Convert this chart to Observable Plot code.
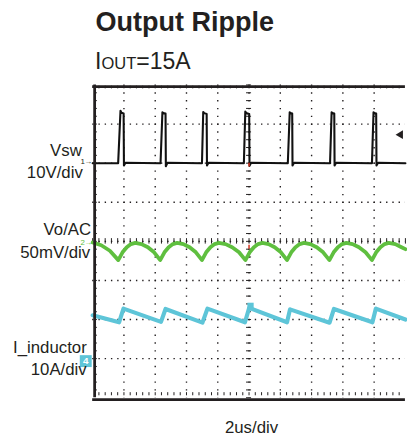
<!DOCTYPE html>
<html><head><meta charset="utf-8">
<script src="https://cdn.jsdelivr.net/npm/d3@7"></script>
<script src="https://cdn.jsdelivr.net/npm/@observablehq/plot@0.6"></script>
<style>
html,body{margin:0;padding:0;background:#fff;overflow:hidden;width:407px;height:447px}
body{font-family:"Liberation Sans",Arial,sans-serif;color:#231f20;position:relative}
#head{position:relative;height:75px;width:407px}
#title{position:absolute;left:95.5px;top:9px;font-size:27px;line-height:1;font-weight:bold;white-space:nowrap}
#sub{position:absolute;left:95px;top:49.5px;font-size:23px;line-height:1;white-space:nowrap}
#sub .s{font-size:16.5px}
#chart{position:relative;height:372px}
</style></head>
<body>
<div id="head"><div id="title">Output Ripple</div><div id="sub">I<span class="s">OUT</span>=15A</div></div>
<div id="chart"></div>
<script>
// Channel labels and settings
const chanNames = ["Vsw", "Vo/AC", "I_inductor"];
const chanScales = ["10V/div", "50mV/div", "10A/div"];
const timeLabel = "2us/div";

// Vsw trace: [time us, volts]
const vswTrace = [
  [0,0],
  [1.63,0],[1.78,13.4],[1.84,12.9],[1.98,12.7],[2.0,-0.6],[2.1,0.1],
  [4.34,0],[4.46,13.0],[4.52,12.8],[4.66,12.7],[4.68,-0.8],[4.78,0.1],
  [6.99,0],[7.07,13.1],[7.13,12.8],[7.29,12.6],[7.31,-0.6],[7.41,0.1],
  [9.67,0],[9.76,13.2],[9.82,12.8],[10.01,12.6],[10.03,-0.7],[10.13,0.1],
  [12.48,0],[12.60,13.0],[12.66,12.8],[12.76,12.7],[12.78,-0.6],[12.88,0.1],
  [15.18,0],[15.28,13.0],[15.34,12.8],[15.45,12.7],[15.47,-0.6],[15.57,0.1],
  [17.86,0],[17.96,13.0],[18.02,12.8],[18.13,12.7],[18.15,-0.6],[18.25,0.1],
  [20,0]
];
// Vo AC ripple: [time us, mV]
const voTrace = [
  [0,-1.5],[0.55,-5],[1.1,-12],
  [1.64,-24],[1.91,-14],[2.18,-7.5],[2.45,-3.5],[2.72,-2],[3.12,-3.5],[3.53,-7.5],[3.93,-14],
  [4.32,-24],[4.59,-14],[4.86,-7.5],[5.13,-3.5],[5.40,-2],[5.80,-3.5],[6.20,-7.5],[6.60,-14],
  [6.99,-24],[7.26,-14],[7.53,-7.5],[7.80,-3.5],[8.07,-2],[8.50,-3.5],[8.92,-7.5],[9.36,-14],
  [9.77,-24],[10.04,-14],[10.31,-7.5],[10.58,-3.5],[10.85,-2],[11.25,-3.5],[11.64,-7.5],[12.04,-14],
  [12.43,-24],[12.70,-14],[12.97,-7.5],[13.24,-3.5],[13.51,-2],[13.92,-3.5],[14.33,-7.5],[14.74,-14],
  [15.14,-24],[15.41,-14],[15.68,-7.5],[15.95,-3.5],[16.22,-2],[16.62,-3.5],[17.03,-7.5],[17.45,-14],
  [17.86,-24],[18.13,-14],[18.40,-7.5],[18.67,-3.5],[18.94,-2],[19.35,-3.5],[19.75,-7.5],[20.0,-10]
];
// Inductor current: [time us, A]
const ilTrace = [
  [0,11.1],
  [1.69,9.3],[1.97,12.8],
  [4.37,9.4],[4.66,12.7],
  [7.02,9.2],[7.34,12.8],
  [9.74,9.3],[10.01,13.0],
  [12.43,9.3],[12.62,12.6],
  [15.15,9.2],[15.43,12.7],
  [17.89,9.3],[18.11,12.8],
  [20,10.0]
];
// scope settings: reference level (div) and units per div
const ch1 = {ref: 6, per: 10};
const ch2 = {ref: 4, per: 50};
const ch4 = {ref: 1, per: 10};
const trigTime = [10];
const trigLevelV = [7.3];

const ink = "#231f20";
const green = "#5fbf3f";
const blue = "#5ec5d8";
const H = 372, W = 412;
const top0 = 9.6, bot0 = 401.2 - 75;

const dv = (c) => (d) => c.ref + d[1] / c.per;

const plot = Plot.plot({
  width: W, height: H,
  marginLeft: 93.3, marginRight: W - 93.3 - 316.6,
  marginTop: top0, marginBottom: H - bot0,
  x: {domain: [0, 20], axis: null},
  y: {domain: [0, 8], axis: null},
  style: {fontFamily: "Liberation Sans, Arial, sans-serif", background: "transparent", color: ink, overflow: "visible"},
  marks: [
    Plot.frame({fill: "white", stroke: null}),
    // dotted graticule
    Plot.ruleX(d3.range(2, 20, 2), {stroke: ink, strokeWidth: 1.4, strokeDasharray: "1.4,6.51"}),
    Plot.ruleY(d3.range(1, 8), {stroke: ink, strokeWidth: 1.4, strokeDasharray: "1.4,4.93"}),
    // center cross ticks
    Plot.ruleY(d3.range(0, 8.01, 0.2), {y: d => d, x1: () => 9.84, x2: () => 10.16, stroke: ink, strokeWidth: 1}),
    Plot.ruleX(d3.range(0, 20.01, 0.4), {x: d => d, y1: () => 3.93, y2: () => 4.07, stroke: ink, strokeWidth: 1}),
    // edge ticks
    Plot.ruleX(d3.range(0.4, 20, 0.4), {x: d => d, y1: () => 0.05, y2: () => 0.13, stroke: ink, strokeWidth: 1}),
    Plot.ruleX(d3.range(0.4, 20, 0.4), {x: d => d, y1: () => 7.9, y2: () => 7.97, stroke: ink, strokeWidth: 1}),
    Plot.ruleY(d3.range(0.2, 8, 0.2), {y: d => d, x1: () => 0.12, x2: () => 0.3, stroke: ink, strokeWidth: 1}),
    // traces
    Plot.line(ilTrace, {x: d => d[0], y: dv(ch4), stroke: blue, strokeWidth: 4.2}),
    Plot.line(voTrace, {x: d => d[0], y: dv(ch2), stroke: green, strokeWidth: 3.8}),
    Plot.line(vswTrace, {x: d => d[0], y: dv(ch1), stroke: "#111", strokeWidth: 2.1}),
    // trigger markers
    Plot.ruleX(trigTime, {y1: () => ch1.ref - 0.1, y2: () => ch1.ref, stroke: "#d8321e", strokeWidth: 1.5}),
    Plot.ruleX(trigTime, {y1: () => ch2.ref - 0.2, y2: () => ch2.ref - 0.1, stroke: "#d8321e", strokeWidth: 1.5}),
    Plot.dot(trigTime, {x: d => d, y: () => ch4.ref + 13.5 / ch4.per, symbol: "square", r: 3.6, fill: blue, dx: 1.5}),
    Plot.dot(trigLevelV, {x: () => 20, y: d => ch1.ref + d / ch1.per, symbol: "triangle", rotate: -90, r: 3.2, fill: ink, dx: -5}),
    // frame
    Plot.ruleX([0], {stroke: ink, strokeWidth: 2.8, dx: 2}),
    Plot.ruleY([0], {stroke: ink, strokeWidth: 2.8, dy: 1.8}),
    Plot.ruleY([8], {stroke: ink, strokeWidth: 2.8, dy: 1.6}),
    // channel ref markers
    Plot.text(["1→"], {x: () => 0, y: () => ch1.ref, textAnchor: "end", dx: 0, dy: -2, fontSize: 8, fill: ink}),
    Plot.text(["2→"], {x: () => 0, y: () => ch2.ref, textAnchor: "end", dx: 0, dy: 1.5, fontSize: 8, fill: green}),
    Plot.dot(["4"], {x: () => 0, y: () => ch4.ref, symbol: "square", r: 6.8, fill: blue, dx: -7, dy: 2.5}),
    Plot.text(["4"], {x: () => 0, y: () => ch4.ref, fill: "white", fontSize: 10, fontWeight: "bold", dx: -7, dy: 2.5}),
    // channel labels
    Plot.text([chanNames[0]], {x: () => 0, y: () => ch1.ref, textAnchor: "end", dx: -11, dy: -12.5, fontSize: 17, fill: ink}),
    Plot.text([chanScales[0]], {x: () => 0, y: () => ch1.ref, textAnchor: "end", dx: -10, dy: 9.5, fontSize: 17, fill: ink}),
    Plot.text([chanNames[1]], {x: () => 0, y: () => ch2.ref, textAnchor: "end", dx: -1.5, dy: -12, fontSize: 17, fill: ink}),
    Plot.text([chanScales[1]], {x: () => 0, y: () => ch2.ref, textAnchor: "end", dx: -2.5, dy: 11.5, fontSize: 17, fill: ink}),
    Plot.text([chanNames[2]], {x: () => 0, y: () => ch4.ref, textAnchor: "end", dx: -6, dy: -11.5, fontSize: 17, fill: ink}),
    Plot.text([chanScales[2]], {x: () => 0, y: () => ch4.ref, textAnchor: "end", dx: -6, dy: 11, fontSize: 17, fill: ink}),
    // time base label
    Plot.text([timeLabel], {x: () => 10, y: () => 0, dx: 2.5, dy: 30.4, fontSize: 17, fill: ink})
  ]
});
document.getElementById("chart").appendChild(plot);
</script>
</body></html>
